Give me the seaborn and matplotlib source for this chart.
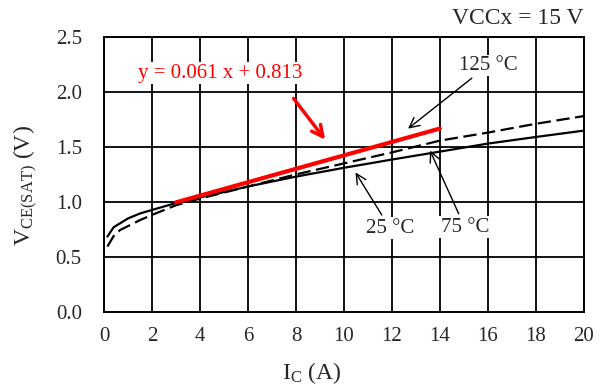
import matplotlib
matplotlib.use('Agg')
import matplotlib.pyplot as plt
import seaborn as sns
import pandas as pd

# values
ic_25 = [0.14, 0.4, 0.67, 1.0, 1.5, 2.0, 3.0, 4.0, 6.0, 8.0, 10.0, 12.0, 14.0, 16.0, 18.0, 20.0]
vce_25 = [0.685, 0.77, 0.806, 0.85, 0.895, 0.927, 0.99, 1.04, 1.14, 1.23, 1.31, 1.385, 1.457, 1.53, 1.59, 1.648]
ic_75 = [0.14, 0.4, 0.67, 1.0, 1.5, 2.0, 3.0, 4.0, 6.0, 8.0, 10.0, 12.0, 14.0, 16.0, 18.0, 20.0]
vce_75 = [0.594, 0.69, 0.745, 0.78, 0.835, 0.882, 0.97, 1.03, 1.14, 1.25, 1.35, 1.45, 1.557, 1.63, 1.71, 1.78]
ic_fit = [3.0, 14.0]
vce_fit = [0.996, 1.667]

x_ticks = [0, 2, 4, 6, 8, 10, 12, 14, 16, 18, 20]
y_ticks = [0.0, 0.5, 1.0, 1.5, 2.0, 2.5]

sns.set_style('white')
plt.rcParams['font.family'] = ['Liberation Serif', 'DejaVu Serif']
plt.rcParams['mathtext.fontset'] = 'custom'
plt.rcParams['mathtext.rm'] = 'Liberation Serif'
plt.rcParams['mathtext.it'] = 'Liberation Serif:italic'

fig = plt.figure(figsize=(6.05, 3.88), dpi=100)
ax = fig.add_axes([0.172, 0.196, 0.793, 0.709])

df25 = pd.DataFrame({'ic': ic_25, 'vce': vce_25})
df75 = pd.DataFrame({'ic': ic_75, 'vce': vce_75})
dfit = pd.DataFrame({'ic': ic_fit, 'vce': vce_fit})

sns.lineplot(data=df25, x='ic', y='vce', ax=ax, color='black', lw=1.6, sort=False, zorder=3)
sns.lineplot(data=df75, x='ic', y='vce', ax=ax, color='black', lw=1.6, sort=False, zorder=3,
             dashes=False, linestyle=(0, (6, 2.5)))
sns.lineplot(data=dfit, x='ic', y='vce', ax=ax, color='#ff0000', lw=3, sort=False, zorder=4)

ax.set_xlim(0, 20)
ax.set_ylim(0, 2.5)
ax.set_xticks(x_ticks)
ax.set_yticks(y_ticks)
ax.set_yticklabels([f'{v:.1f}' for v in y_ticks])
ax.grid(True, color='black', lw=1.3)
ax.tick_params(axis='both', length=0, labelsize=15)
ax.tick_params(axis='y', pad=16)
ax.tick_params(axis='x', pad=11)
for s in ax.spines.values():
    s.set_color('black')
    s.set_linewidth(1.4)

ax.set_xlabel(r'I$_{\mathrm{C}}$ (A)', fontsize=17)
ax.set_ylabel(r'V$_{\mathrm{CE(SAT)}}$ (V)', fontsize=17)
ax.xaxis.set_label_coords(0.432, -0.175)
ax.yaxis.set_label_coords(-0.134, 0.458)

box = dict(facecolor='white', edgecolor='none', pad=1)
arr = dict(arrowstyle='->', color='black', lw=1, mutation_scale=18)
ax.annotate('25 °C', xy=(10.42, 1.29), xytext=(11.92, 0.76), ha='center', va='center',
            fontsize=15, bbox=box, arrowprops=arr, zorder=5)
ax.annotate('75 °C', xy=(13.54, 1.49), xytext=(15.04, 0.77), ha='center', va='center',
            fontsize=15, bbox=box, arrowprops=arr, zorder=5)
ax.annotate('125 °C', xy=(12.58, 1.65), xytext=(16.0, 2.24), ha='center', va='center',
            fontsize=15, bbox=box, arrowprops=arr, zorder=5)
ax.annotate('', xy=(9.29, 1.545), xytext=(7.83, 1.96),
            arrowprops=dict(arrowstyle='->', color='#ff0000', lw=2.5, mutation_scale=20), zorder=5)
ax.text(4.83, 2.17, 'y = 0.061 x + 0.813', color='#ff0000', ha='center', va='center',
        fontsize=15, bbox=box, zorder=5)

fig.text(0.965, 0.952, 'VCCx = 15 V', ha='right', va='center', fontsize=17)

fig.savefig('out.png', dpi=100)
